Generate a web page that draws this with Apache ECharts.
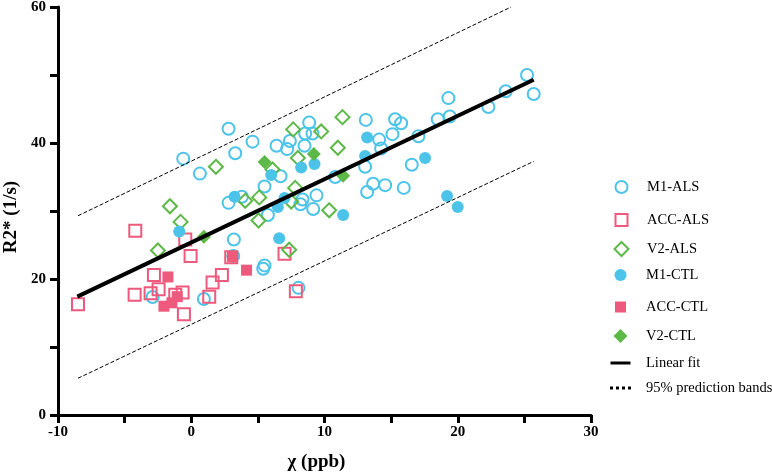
<!DOCTYPE html>
<html>
<head>
<meta charset="utf-8">
<script src="https://cdn.jsdelivr.net/npm/echarts@6/dist/echarts.min.js"></script>
<style>
  html, body { margin: 0; padding: 0; background: #fff; }
  #chart { width: 772px; height: 474px; }
</style>
</head>
<body>
<div id="chart"></div>
<script>
// values, [chi (ppb), R2* (1/s)]
const m1_als = [
    [-0.6, 37.7], [0.65, 35.5], [2.8, 42.1], [3.3, 38.5], [4.6, 40.2], [6.4, 39.6],
    [7.2, 39.1], [7.4, 40.3], [8.5, 39.6], [8.85, 43.0], [8.55, 41.4], [9.1, 41.4],
    [6.7, 35.1], [5.5, 33.6], [5.75, 29.4], [13.1, 43.4], [15.3, 43.5], [15.75, 42.9],
    [18.5, 43.5], [19.3, 46.6], [19.4, 43.9], [14.1, 40.5], [15.1, 41.3], [14.25, 39.2],
    [17.05, 41.0], [16.55, 36.8], [13.05, 36.5], [13.65, 34.0], [14.55, 33.8], [13.2, 32.8],
    [15.95, 33.4], [10.8, 35.0], [8.35, 31.7], [8.2, 31.0], [9.4, 32.3], [9.15, 30.3],
    [25.2, 50.0], [23.6, 47.6], [25.7, 47.2], [22.3, 45.3], [3.2, 25.8], [3.15, 23.4],
    [-2.9, 17.35], [0.95, 17.05], [2.8, 31.2], [3.8, 32.1], [5.5, 22.0], [5.4, 21.5],
    [8.05, 18.7]
]
const acc_als = [
    [-4.2, 27.1], [-0.45, 25.8], [-0.05, 23.4], [-2.8, 20.6], [-2.45, 18.5], [-4.25, 17.7],
    [-8.5, 16.3], [1.6, 19.5], [2.3, 20.6], [1.35, 17.4], [-0.65, 18.0], [-1.2, 17.7],
    [-0.55, 14.8], [-3.05, 17.9], [7.0, 23.7], [7.85, 18.2], [3.0, 23.2]
]
const v2_als = [
    [1.85, 36.5], [-1.6, 30.7], [-0.8, 28.4], [-2.5, 24.2], [4.05, 31.5], [5.1, 32.0],
    [5.05, 28.6], [7.65, 42.0], [6.1, 36.1], [8.0, 37.8], [7.8, 33.4], [11.35, 43.8],
    [9.75, 41.7], [11.0, 39.3], [7.5, 31.4], [10.35, 30.1], [7.35, 24.3]
]
const m1_ctl = [
    [13.2, 40.8], [13.05, 38.1], [17.55, 37.8], [19.2, 32.2], [20.0, 30.6], [11.4, 29.4],
    [8.25, 36.4], [9.25, 36.9], [7.0, 31.9], [6.5, 30.6], [6.6, 26.0], [6.0, 35.3],
    [3.25, 32.1], [-0.9, 27.0]
]
const acc_ctl = [
    [-1.75, 20.3], [-2.05, 16.0], [-1.45, 16.5], [-1.05, 17.4], [4.15, 21.3], [3.1, 23.3]
]
const v2_ctl = [
    [0.95, 26.2], [5.5, 37.2], [9.2, 38.4], [11.4, 35.2]
]
const fit_line = [[-8.55, 17.4], [25.7, 49.3]]
const band_upper = [[-8.5, 29.3], [24.0, 60]]
const band_lower = [[-8.5, 5.4], [25.7, 37.3]]

const x_ticks = { min: -10, max: 30, step: 5, label_step: 10 }
const y_ticks = { min: 0, max: 60, step: 10, label_step: 20 }

const cyan = '#4CC3E9'
const pink = '#EE5A7E'
const green = '#5DB947'
const serif = '"Liberation Serif", "Times New Roman", serif'

function scatter(name, data, symbol, size, color, filled) {
    return {
        name: name,
        type: 'scatter',
        data: data,
        symbol: symbol,
        symbolSize: size,
        itemStyle: filled
            ? { color: color, opacity: 1 }
            : { color: 'rgba(255,255,255,0)', borderColor: color, borderWidth: 2, opacity: 1 },
        emphasis: { disabled: true }
    }
}

const series = [
    scatter('M1-ALS', m1_als, 'circle', 12, cyan, false),
    scatter('ACC-ALS', acc_als, 'rect', 12, pink, false),
    scatter('V2-ALS', v2_als, 'diamond', 14, green, false),
    scatter('M1-CTL', m1_ctl, 'circle', 12, cyan, true),
    scatter('ACC-CTL', acc_ctl, 'rect', 11, pink, true),
    scatter('V2-CTL', v2_ctl, 'diamond', 14, green, true),
    {
        name: 'Linear fit', type: 'line', data: fit_line, symbol: 'none',
        lineStyle: { color: '#000', width: 4 }, itemStyle: { color: '#000' }, z: 5
    },
    {
        name: '95% prediction bands', type: 'line', data: band_upper, symbol: 'none',
        lineStyle: { color: '#000', width: 1, type: [4, 2] }, itemStyle: { color: '#000' }
    },
    {
        name: '95% prediction bands', type: 'line', data: band_lower, symbol: 'none',
        lineStyle: { color: '#000', width: 1, type: [4, 2] }, itemStyle: { color: '#000' }
    }
]

// one legend per row so the rows can sit at the uneven gaps of the picture
const icon_center = 620.5
const text_left = 646
const legend_rows = [
    { name: 'M1-ALS', y: 187, w: 12, h: 12 },
    { name: 'ACC-ALS', y: 220, w: 12, h: 12 },
    { name: 'V2-ALS', y: 249, w: 14, h: 14 },
    { name: 'M1-CTL', y: 275, w: 12, h: 12 },
    { name: 'ACC-CTL', y: 307, w: 11, h: 11 },
    { name: 'V2-CTL', y: 336, w: 14, h: 14 },
    { name: 'Linear fit', y: 363, w: 20, h: 3, icon: 'rect' },
    { name: '95% prediction bands', y: 388, w: 21, h: 3, icon: 'path://M0,0h3v3h-3zM6,0h3v3h-3zM12,0h3v3h-3zM18,0h3v3h-3z' }
]
const legends = legend_rows.map(function (row) {
    const item = { name: row.name }
    if (row.icon) item.icon = row.icon
    const left = icon_center - row.w / 2
    return {
        data: [item],
        left: left,
        top: row.y - 8,
        padding: 0,
        itemWidth: row.w,
        itemHeight: row.h,
        selectedMode: false,
        textStyle: {
            fontFamily: serif, fontSize: 14.5, color: '#000', lineHeight: 16,
            padding: [0, 0, 0, text_left - (left + row.w + 5)]
        }
    }
})

const axis_tick = { show: true, inside: false, length: 8, lineStyle: { color: '#000', width: 3 } }

const option = {
    backgroundColor: '#fff',
    animation: false,
    grid: { left: 58, right: 181, top: 7, bottom: 59, outerBoundsMode: 'none', containLabel: false },
    legend: legends,
    xAxis: {
        type: 'value',
        min: x_ticks.min, max: x_ticks.max, interval: x_ticks.step,
        name: 'χ (ppb)', nameLocation: 'middle', nameGap: 38,
        nameTextStyle: { fontFamily: serif, fontSize: 19, fontWeight: 'bold', color: '#000', padding: [0, 16, 0, 0] },
        axisLine: { show: true, onZero: false, lineStyle: { color: '#000', width: 3 } },
        axisTick: axis_tick, splitLine: { show: false },
        axisLabel: {
            fontFamily: serif, fontSize: 15, fontWeight: 'bold', color: '#000', margin: 10,
            formatter: v => (v % x_ticks.label_step === 0 ? String(v) : '')
        }
    },
    yAxis: {
        type: 'value',
        min: y_ticks.min, max: y_ticks.max, interval: y_ticks.step,
        name: 'R2* (1/s)', nameLocation: 'middle', nameGap: 30, nameRotate: 90,
        nameTextStyle: { fontFamily: serif, fontSize: 19, fontWeight: 'bold', color: '#000', padding: [0, 12, 0, 0] },
        axisLine: { show: true, onZero: false, lineStyle: { color: '#000', width: 3 } },
        axisTick: axis_tick, splitLine: { show: false },
        axisLabel: {
            fontFamily: serif, fontSize: 15, fontWeight: 'bold', color: '#000', margin: 12,
            formatter: v => (v % y_ticks.label_step === 0 ? String(v) : '')
        }
    },
    series: series
}

const chart = echarts.init(document.getElementById('chart'), null, { renderer: 'canvas' })
chart.setOption(option)
</script>
</body>
</html>
